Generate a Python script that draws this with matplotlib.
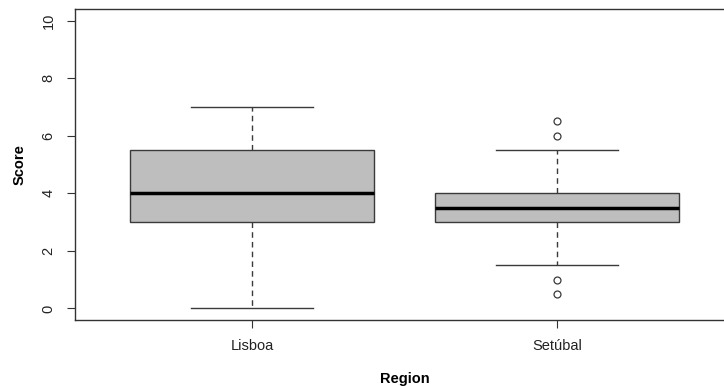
import numpy as np
import matplotlib.pyplot as plt

regions = ['Lisboa', 'Setúbal']
whislo = [0.0, 1.5]
q1 = [3.0, 3.0]
med = [4.0, 3.5]
q3 = [5.5, 4.0]
whishi = [7.0, 5.5]
fliers = [[], [6.5, 6.0, 1.0, 0.5]]

plt.rcParams['font.family'] = ['Liberation Sans', 'DejaVu Sans']

fig = plt.figure(figsize=(7.24, 3.86), dpi=100)
ax = fig.add_axes([75/724, 1 - 320/386, 659/724, 311/386])

stats = []
for i in range(len(regions)):
    stats.append(dict(label=regions[i], whislo=whislo[i], q1=q1[i], med=med[i],
                      q3=q3[i], whishi=whishi[i], fliers=fliers[i]))

edge = '#3a3a3a'
ax.bxp(stats, positions=[1, 2], widths=0.8, patch_artist=True,
       boxprops=dict(facecolor='#bebebe', edgecolor=edge, linewidth=1.0),
       medianprops=dict(color='black', linewidth=2.5),
       whiskerprops=dict(color=edge, linestyle=(0, (4, 3)), linewidth=1.0),
       capprops=dict(color=edge, linewidth=1.0),
       capwidths=0.4,
       flierprops=dict(marker='o', markerfacecolor='none', markeredgecolor=edge,
                       markersize=5, markeredgewidth=0.9))

ax.set_xlim(0.42, 2.58)
ax.set_ylim(-0.4, 10.4)
ax.set_yticks([0, 2, 4, 6, 8, 10])
ax.set_yticklabels(['0', '2', '4', '6', '8', '10'], rotation=90, va='center')
ax.set_xticks([1, 2])
ax.set_xticklabels(regions)

for s in ax.spines.values():
    s.set_color('#333333')
    s.set_linewidth(1.0)

ax.tick_params(axis='both', colors='#333333', labelcolor='#222222', labelsize=10.5, length=6)
ax.tick_params(axis='x', pad=8)
ax.tick_params(axis='y', pad=8)

ax.set_ylabel('Score', fontweight='bold', fontsize=10.5, labelpad=11)
ax.set_xlabel('Region', fontweight='bold', fontsize=10.5, labelpad=13)

fig.savefig('out.png', dpi=100, facecolor='white')
